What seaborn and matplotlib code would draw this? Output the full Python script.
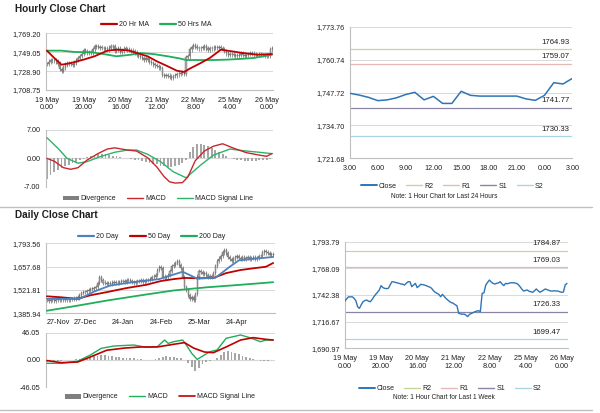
import matplotlib.pyplot as plt
import matplotlib.patches as mpatches
from matplotlib.lines import Line2D
import numpy as np
import seaborn as sns

# --------------------------------------------------------------
# Data
# --------------------------------------------------------------

# hourly closes, 19 May 0:00 -> 26 May 3:00 (124 bars)
hourly_close = [
    1736.6, 1739.0, 1740.7, 1740.5, 1740.7, 1739.2, 1737.0, 1731.0, 1729.5, 1733.0,
    1735.9, 1737.0, 1737.5, 1736.5, 1735.9, 1738.0, 1740.7, 1743.0, 1745.0, 1747.2,
    1751.4, 1749.5, 1748.8, 1748.5, 1748.8, 1752.0, 1755.2, 1755.0, 1754.5, 1754.0,
    1753.6, 1753.0, 1752.8, 1752.0, 1753.8, 1755.2, 1755.2, 1750.4, 1752.0, 1753.6,
    1749.5, 1751.0, 1752.7, 1752.4, 1752.0, 1751.4, 1750.6, 1750.0, 1748.8, 1746.5,
    1745.0, 1744.0, 1743.0, 1740.7, 1743.0, 1741.0, 1739.0, 1737.5, 1736.0, 1735.0,
    1734.4, 1733.0, 1732.1, 1724.7, 1724.2, 1723.8, 1724.0, 1723.0, 1721.5, 1723.8,
    1724.5, 1725.4, 1726.3, 1726.8, 1727.3, 1726.3, 1744.0, 1744.5, 1752.0, 1754.5,
    1756.8, 1755.0, 1753.6, 1753.0, 1753.6, 1754.0, 1755.2, 1753.0, 1751.4, 1753.6,
    1753.2, 1753.8, 1754.2, 1754.2, 1754.0, 1753.6, 1752.5, 1750.4, 1748.0, 1746.2,
    1746.8, 1747.2, 1746.0, 1745.5, 1745.0, 1746.5, 1748.2, 1746.5, 1745.0, 1746.0,
    1747.0, 1748.2, 1747.5, 1746.8, 1746.2, 1746.2, 1746.5, 1746.2, 1746.2, 1745.5,
    1745.0, 1745.2, 1752.0, 1753.6,
]
hour_ticks = [0, 20, 40, 60, 80, 100, 120]
hour_labels = ["19 May\n0.00", "19 May\n20.00", "20 May\n16.00", "21 May\n12.00",
               "22 May\n8.00", "25 May\n4.00", "26 May\n0.00"]

ma20_hour_x = [0, 4, 8, 13, 20, 26, 33, 38, 44, 49, 55, 60, 66, 71, 75, 78, 84, 89, 95, 101, 107, 115, 123]
ma20_hour = [1750.7, 1742.9, 1735.7, 1737.5, 1741.1, 1744.7, 1750.7, 1751.7, 1751.1, 1748.2, 1744.7,
             1739.4, 1734.0, 1729.3, 1728.0, 1731.5, 1737.5, 1742.9, 1751.7, 1750.0, 1748.2, 1746.4, 1747.1]
ma50_hour_x = [0, 8, 15, 24, 31, 38, 46, 51, 58, 66, 73, 76, 84, 91, 98, 105, 113, 123]
ma50_hour = [1750.7, 1750.7, 1749.3, 1749.0, 1747.1, 1744.7, 1746.4, 1748.2, 1747.1, 1744.7, 1742.2,
             1740.7, 1740.7, 1740.7, 1741.1, 1741.8, 1742.9, 1746.4]
hour_yticks = [1708.75, 1728.90, 1749.05, 1769.20]

# hourly MACD
macd_hour_x = [0, 4, 9, 13, 17, 22, 28, 33, 37, 44, 49, 55, 60, 64, 67, 70, 74, 77, 81, 86, 91, 96,
               102, 109, 116, 120, 123]
macd_hour = [0.0, -0.7, -2.3, -2.7, -2.3, -0.4, 1.2, 2.3, 2.6, 2.05, 1.8, 0.15, -2.1, -4.5, -5.8, -6.1,
             -6.0, -4.6, -0.6, 1.8, 3.0, 3.6, 2.5, 1.4, 0.8, 0.5, 1.2]
signal_hour_x = [0, 6, 11, 17, 22, 29, 37, 44, 49, 55, 62, 69, 76, 84, 91, 100, 109, 116, 123]
signal_hour = [5.1, 2.5, 0.0, -1.2, -0.8, 0.4, 1.5, 2.05, 2.05, 1.0, -0.8, -3.3, -4.8, -1.65, 0.8, 2.3,
               1.8, 1.5, 1.15]
# divergence every 2 hours (0, 2, ... 122)
div_hour = [
    -5.0, -4.2, -3.3, -2.8, -2.4, -2.0, -1.6, -1.2, -0.9, -0.5, -0.1, 0.3, 0.6, 0.9, 1.0, 1.1,
    1.0, 0.9, 0.7, 0.5, 0.3, 0.1, 0.0, -0.2, -0.3, -0.5, -0.7, -0.9, -1.2, -1.3, -1.5, -1.8,
    -2.0, -2.1, -2.2, -2.0, -1.6, -1.2, -0.5, 1.5, 2.8, 3.5, 3.6, 3.4, 3.0, 2.5, 2.0, 1.5,
    1.0, 0.5, 0.1, -0.2, -0.4, -0.5, -0.6, -0.7, -0.7, -0.6, -0.5, -0.4, -0.3, -0.1,
]
macd_hour_yticks = [-7.0, 0.0, 7.0]

# last 24 hours (25 May 3:00 -> 26 May 3:00)
close_24h = [1747.4, 1746.7, 1745.8, 1744.5, 1744.8, 1745.6, 1746.9, 1747.8, 1744.8, 1746.2,
             1743.4, 1743.4, 1748.2, 1746.6, 1746.3, 1746.3, 1746.3, 1746.3, 1746.3, 1745.2,
             1744.6, 1746.6, 1751.6, 1751.1, 1753.3]
ticks_24h = [0, 3, 6, 9, 12, 15, 18, 21, 24]
labels_24h = ["3.00", "6.00", "9.00", "12.00", "15.00", "18.00", "21.00", "0.00", "3.00"]
yticks_24h = [1721.68, 1734.70, 1747.72, 1760.74, 1773.76]
levels_24h = {"R2": 1764.93, "R1": 1759.07, "S1": 1741.77, "S2": 1730.33}

# daily closes, 27 Nov -> 22 May (126 bars)
daily_close = [
    1462, 1458, 1465, 1468, 1460, 1463, 1470, 1466, 1461, 1464,
    1467, 1462, 1465, 1470, 1468, 1472, 1475, 1478, 1490, 1505,
    1512, 1508, 1515, 1520, 1530, 1528, 1535, 1540, 1560, 1595,
    1580, 1565, 1560, 1555, 1562, 1558, 1565, 1570, 1560, 1565,
    1568, 1572, 1575, 1570, 1578, 1582, 1575, 1570, 1565, 1570,
    1575, 1572, 1578, 1570, 1575, 1580, 1578, 1585, 1595, 1600,
    1610, 1640, 1655, 1648, 1600, 1590, 1595, 1610, 1630, 1660,
    1670, 1680, 1690, 1665, 1650, 1595, 1540, 1520, 1490, 1470,
    1480, 1465, 1500, 1600, 1630, 1625, 1615, 1620, 1610, 1600,
    1598, 1605, 1620, 1660, 1690, 1705, 1720, 1740, 1756, 1735,
    1715, 1700, 1690, 1705, 1712, 1718, 1710, 1705, 1715, 1700,
    1708, 1712, 1705, 1710, 1715, 1705, 1710, 1718, 1720, 1740,
    1748, 1740, 1735, 1728, 1732, 1725,
]
day_ticks = [0, 21, 42, 63, 84, 105, 126]
day_labels = ["27-Nov", "27-Dec", "24-Jan", "24-Feb", "25-Mar", "24-Apr", ""]
ma20_day_x = [0, 18, 26, 35, 48, 62, 68, 75, 83, 93, 101, 106, 114, 121, 125]
ma20_day = [1470, 1470, 1512, 1548, 1568, 1585, 1605, 1628, 1588, 1592, 1657, 1694, 1703, 1710, 1714]
ma50_day_x = [0, 8, 17, 24, 33, 44, 55, 63, 70, 76, 83, 92, 99, 107, 114, 121, 125]
ma50_day = [1485, 1479, 1470, 1491, 1509, 1533, 1552, 1574, 1585, 1592, 1590, 1592, 1620, 1638, 1648,
            1657, 1679]
ma200_day_x = [0, 15, 33, 52, 70, 88, 107, 125]
ma200_day = [1401, 1427, 1460, 1491, 1519, 1537, 1552, 1567]
day_yticks = [1385.94, 1521.81, 1657.68, 1793.56]

# daily MACD
macd_day_x = [0, 8, 17, 24, 30, 37, 48, 55, 61, 65, 67, 70, 75, 77, 80, 83, 87, 90, 94, 99, 107,
              112, 118, 121, 125]
macd_day = [-5.6, -5.6, -2.0, 8.4, 19.7, 23.6, 25.3, 21.4, 22.5, 33.7, 28.0, 30.9, 33.7, 25.3, 11.2,
            1.0, 8.4, 14.0, 16.9, 36.6, 42.2, 37.7, 30.9, 33.7, 33.7]
signal_day_x = [0, 8, 17, 24, 33, 43, 52, 61, 70, 76, 81, 87, 92, 99, 107, 114, 121, 125]
signal_day = [-1.0, -4.5, -3.4, 5.1, 16.4, 20.2, 22.0, 22.0, 26.5, 29.3, 20.2, 13.5, 12.4, 22.0, 33.7,
              37.7, 34.8, 33.7]
# divergence every 2 days (0, 2, ... 124)
div_day = [
    -3, -2.5, -2, -1.5, -1, -0.5, 0, 0.5, 1, 2, 3, 4,
    5, 6, 7, 8, 8, 7, 6, 5, 5, 4, 4, 3,
    3, 2, 1, 0.5, 0, 0, 1, 3, 5, 6, 5, 5,
    4, 3, 0, -5, -12, -19, -14, -6, -3, -2, 0, 4,
    9, 13, 15, 14, 12, 10, 7, 5, 3, 1, 0, -1,
    -1.5, -1, -0.5,
]
macd_day_yticks = [-46.05, 0.0, 46.05]

# last week, hourly close with weekly levels
yticks_week = [1690.97, 1716.67, 1742.38, 1768.09, 1793.79]
levels_week = {"R2": 1784.87, "R1": 1769.03, "S1": 1726.33, "S2": 1699.47}

# --------------------------------------------------------------
# Styling
# --------------------------------------------------------------
sns.set_theme(style="white")
plt.rcParams["font.family"] = ["Liberation Sans", "DejaVu Sans"]

TXT = "#1f1f1f"
GRID = "#d9d9d9"
SPINE = "#bfbfbf"
RED = "#c00000"
GREEN = "#1fae5b"
BLUE = "#4f81bd"
CLOSE_BLUE = "#2e75b6"
CANDLE = "#595959"
DIV_GREY = "#a6a6a6"
LEVEL_COLORS = {"R2": "#c4d79b", "R1": "#e6b9b8", "S1": "#8b84a6", "S2": "#a9d6e5"}
FS = 5.2

fig = plt.figure(figsize=(6, 4.13), dpi=100)
W, H = 600, 413


def px_axes(x0, y0, x1, y1):
    return fig.add_axes([x0 / W, 1 - y1 / H, (x1 - x0) / W, (y1 - y0) / H])


def style_axes(ax, yticks):
    ax.set_ylim(yticks[0], yticks[-1])
    ax.set_yticks(yticks)
    ax.set_yticklabels([f"{v:,.2f}" for v in yticks], fontsize=FS, color=TXT)
    ax.grid(axis="y", color=GRID, lw=0.7)
    ax.grid(axis="x", visible=False)
    for s in ["top", "right"]:
        ax.spines[s].set_visible(False)
    for s in ["left", "bottom"]:
        ax.spines[s].set_color(SPINE)
        ax.spines[s].set_linewidth(0.8)
    ax.tick_params(axis="both", length=2, width=0.6, color=SPINE, pad=2,
                   labelsize=FS, labelcolor=TXT)
    ax.set_xlabel("")
    ax.set_ylabel("")


def draw_candles(ax, closes, wick):
    c = np.asarray(closes, dtype=float)
    o = np.r_[c[0], c[:-1]]
    x = np.arange(len(c))
    lo, hi = np.minimum(o, c), np.maximum(o, c)
    ax.vlines(x, lo - wick, hi + wick, color=CANDLE, lw=0.45, zorder=2)
    ax.bar(x, np.maximum(hi - lo, wick * 0.3), bottom=lo, width=0.6,
           color="#b3b3b3", edgecolor="#444444", lw=0.25, zorder=2)


def add_legend(handles, labels, cx, cy, ncol=None, spacing=1.6):
    fig.legend(handles, labels, loc="center", bbox_to_anchor=(cx / W, 1 - cy / H),
               ncol=ncol or len(handles), frameon=False, fontsize=5,
               handlelength=2.3, handletextpad=0.3, columnspacing=spacing,
               labelcolor=TXT)


def line_handle(color, lw=1.6):
    return Line2D([], [], color=color, lw=lw)


div_handle = mpatches.Patch(facecolor="#7f7f7f", edgecolor="none")

# --------------------------------------------------------------
# Hourly candle chart
# --------------------------------------------------------------
ax1 = px_axes(46, 33.3, 273, 90)
draw_candles(ax1, hourly_close, wick=2.5)
sns.lineplot(x=ma50_hour_x, y=ma50_hour, ax=ax1, color=GREEN, lw=1.3, zorder=3)
sns.lineplot(x=ma20_hour_x, y=ma20_hour, ax=ax1, color=RED, lw=1.3, zorder=4)
style_axes(ax1, hour_yticks)
ax1.set_xlim(-0.5, 123.5)
ax1.set_xticks(hour_ticks)
ax1.set_xticklabels(hour_labels, fontsize=FS, linespacing=1.1)
ax1.tick_params(axis="x", pad=3)
add_legend([line_handle(RED), line_handle(GREEN)], ["20 Hr MA", "50 Hrs MA"], 156, 25)

# Hourly MACD
ax2 = px_axes(46, 130, 273, 186.7)
ax2.bar(np.arange(len(div_hour)) * 2, div_hour, width=1.0, color=DIV_GREY,
        edgecolor="none", lw=0, zorder=1)
sns.lineplot(x=signal_hour_x, y=signal_hour, ax=ax2, color="#2db36b", lw=1.0, zorder=3)
sns.lineplot(x=macd_hour_x, y=macd_hour, ax=ax2, color="#c8282d", lw=1.0, zorder=4)
style_axes(ax2, macd_hour_yticks)
ax2.axhline(0, color=SPINE, lw=0.8, zorder=0)
ax2.set_xlim(-0.5, 123.5)
ax2.set_xticks([])
ax2.spines["bottom"].set_visible(False)
add_legend([div_handle, line_handle("#c8282d", 1.0), line_handle("#2db36b", 1.0)],
           ["Divergence", "MACD", "MACD Signal Line"], 158, 199)

# --------------------------------------------------------------
# Last 24 hours with levels
# --------------------------------------------------------------
ax3 = px_axes(350, 26.7, 572.3, 158.3)
for name, lvl in levels_24h.items():
    ax3.axhline(lvl, color=LEVEL_COLORS[name], lw=0.9, zorder=2)
    ax3.annotate(f"{lvl:.2f}", xy=(1, lvl), xycoords=("axes fraction", "data"),
                 xytext=(-2, 2.5), textcoords="offset points", ha="right", va="bottom",
                 fontsize=5.6, color=TXT)
sns.lineplot(x=np.arange(len(close_24h)), y=close_24h, ax=ax3, color=CLOSE_BLUE, lw=1.1, zorder=3)
style_axes(ax3, yticks_24h)
ax3.set_xlim(0, 24)
ax3.set_xticks(ticks_24h)
ax3.set_xticklabels(labels_24h, fontsize=FS)
ax3.tick_params(axis="x", pad=3)
level_handles = [line_handle(CLOSE_BLUE, 1.4)] + [line_handle(LEVEL_COLORS[k], 1.0) for k in levels_24h]
add_legend(level_handles, ["Close"] + list(levels_24h), 452, 186, spacing=1.4)
fig.text(444 / W, 1 - 197 / H, "Note: 1 Hour Chart for Last 24 Hours", ha="center", va="center",
         fontsize=4.7, color=TXT)

# --------------------------------------------------------------
# Daily candle chart
# --------------------------------------------------------------
ax4 = px_axes(46, 243.3, 275, 313.3)
draw_candles(ax4, daily_close, wick=12)
sns.lineplot(x=ma200_day_x, y=ma200_day, ax=ax4, color=GREEN, lw=1.3, zorder=3)
sns.lineplot(x=ma50_day_x, y=ma50_day, ax=ax4, color=RED, lw=1.3, zorder=3)
sns.lineplot(x=ma20_day_x, y=ma20_day, ax=ax4, color=BLUE, lw=1.3, zorder=4)
style_axes(ax4, day_yticks)
ax4.set_xlim(-0.5, 126)
ax4.set_xticks(day_ticks)
ax4.set_xticklabels(day_labels, fontsize=FS)
ax4.get_xticklabels()[0].set_ha("left")
ax4.tick_params(axis="x", pad=2)
add_legend([line_handle(BLUE), line_handle(RED), line_handle(GREEN)],
           ["20 Day", "50 Day", "200 Day"], 152, 237)

# Daily MACD
ax5 = px_axes(46, 332.7, 275, 387.3)
ax5.bar(np.arange(len(div_day)) * 2, div_day, width=1.0, color=DIV_GREY,
        edgecolor="none", lw=0, zorder=1)
sns.lineplot(x=macd_day_x, y=macd_day, ax=ax5, color=GREEN, lw=1.0, zorder=3)
sns.lineplot(x=signal_day_x, y=signal_day, ax=ax5, color=RED, lw=1.2, zorder=4)
style_axes(ax5, macd_day_yticks)
ax5.axhline(0, color=SPINE, lw=0.8, zorder=0)
ax5.set_xlim(-0.5, 126)
ax5.set_xticks([])
ax5.spines["bottom"].set_visible(False)
add_legend([div_handle, line_handle(GREEN, 1.0), line_handle(RED, 1.2)],
           ["Divergence", "MACD", "MACD Signal Line"], 160, 397)

# --------------------------------------------------------------
# Last week hourly with levels
# --------------------------------------------------------------
ax6 = px_axes(345, 241.7, 567.7, 348.3)
for name, lvl in levels_week.items():
    ax6.axhline(lvl, color=LEVEL_COLORS[name], lw=0.9, zorder=2)
    ax6.annotate(f"{lvl:.2f}", xy=(1, lvl), xycoords=("axes fraction", "data"),
                 xytext=(-5, 2.5), textcoords="offset points", ha="right", va="bottom",
                 fontsize=5.6, color=TXT)
sns.lineplot(x=np.arange(len(hourly_close)), y=hourly_close, ax=ax6, color=CLOSE_BLUE, lw=1.0, zorder=3)
style_axes(ax6, yticks_week)
ax6.set_xlim(0, 123.4)
ax6.set_xticks(hour_ticks)
ax6.set_xticklabels(hour_labels, fontsize=FS, linespacing=1.1)
ax6.tick_params(axis="x", pad=3)
add_legend(level_handles, ["Close"] + list(levels_week), 450, 389, spacing=1.4)
fig.text(444 / W, 1 - 397.5 / H, "Note: 1 Hour Chart for Last 1 Week", ha="center", va="center",
         fontsize=4.7, color=TXT)

# --------------------------------------------------------------
# Titles and separators
# --------------------------------------------------------------
fig.text(15 / W, 1 - 9.5 / H, "Hourly Close Chart", ha="left", va="center",
         fontsize=7.2, weight="bold", color=TXT)
fig.text(15 / W, 1 - 215 / H, "Daily Close Chart", ha="left", va="center",
         fontsize=7.2, weight="bold", color=TXT)
for yy in [207, 410]:
    fig.add_artist(Line2D([0, 592 / W], [1 - yy / H] * 2, transform=fig.transFigure,
                          color="#bfbfbf", lw=1.0))

fig.savefig("out.png", dpi=100)
